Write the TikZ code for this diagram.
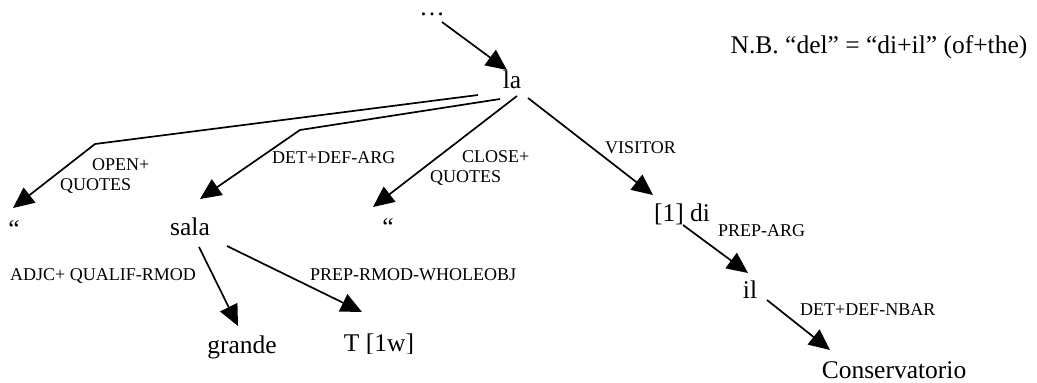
\documentclass[tikz,border=0pt]{standalone}
\usepackage{fontspec}
\setmainfont{Liberation Serif}
\usetikzlibrary{arrows.meta}
\begin{document}
\begin{tikzpicture}[x=1pt,y=-1pt,
  word/.style={anchor=base,inner sep=0pt,font=\fontsize{25.5}{30}\selectfont},
  lbl/.style={anchor=base west,inner sep=0pt,font=\fontsize{18}{20}\selectfont},
  arr/.style={line width=1.7pt,-{Triangle[length=21pt,width=19pt]}},
  ln/.style={line width=1.7pt}]
\useasboundingbox (0,0) rectangle (1037,383);
% words
\node[word,text height=4pt] (dots) at (432,15.5) {…};
\node[word] (la) at (512,88) {la};
\node[word] (q1) at (14,237) {“};
\node[word] (sala) at (190,235) {sala};
\node[word] (q2) at (388,235) {“};
\node[word] (di) at (682,221) {[1] di};
\node[word] (il) at (750,298) {il};
\node[word] (grande) at (242,353) {grande};
\begin{scope}
\clip (330,320) rectangle (430,353);
\node[word] (T) at (379,351) {T [1w]};
\end{scope}
\node[word] (cons) at (894,378) {Conservatorio};
\node[word] (nb) at (879,53) {N.B. “del” = “di+il” (of+the)};
% labels
\node[lbl] (lopen1) at (92,170) {OPEN+};
\node[lbl] (lopen2) at (60,190) {QUOTES};
\node[lbl] (ldet) at (272,163) {DET+DEF-ARG};
\node[lbl] (lclose1) at (462,162) {CLOSE+};
\node[lbl] (lclose2) at (430,182) {QUOTES};
\node[lbl] (lvis) at (605,153) {VISITOR};
\node[lbl] (ladj) at (10,280) {ADJC+ QUALIF-RMOD};
\node[lbl] (lprep) at (310,280) {PREP-RMOD-WHOLEOBJ};
\node[lbl] (lparg) at (718,236) {PREP-ARG};
\node[lbl] (lnbar) at (800,315) {DET+DEF-NBAR};
% bends
\coordinate (b1) at (95,144);
\coordinate (b2) at (300,130);
% connectors
\draw[arr] ([shift={(10,6.5)}]dots.base) -- ([shift={(-5,-18)}]la.base);
\draw[arr] ([shift={(-34,7)}]la.base) -- (b1) -- ([shift={(-1,-29)}]q1.base);
\draw[arr] ([shift={(-12,11)}]la.base) -- (b2) -- ([shift={(10,-36)}]sala.base);
\draw[arr] ([shift={(5,8)}]la.base) -- ([shift={(-15,-28)}]q2.base);
\draw[arr] ([shift={(16,10)}]la.base) -- ([shift={(-29,-26)}]di.base);
\draw[arr] ([shift={(9,12)}]sala.base) -- ([shift={(-4,-27)}]grande.base);
\draw[arr] ([shift={(37,11)}]sala.base) -- ([shift={(-17,-39)}]T.base);
\draw[arr] ([shift={(1,4)}]di.base) -- ([shift={(-2,-25)}]il.base);
\draw[arr] ([shift={(17,2)}]il.base) -- ([shift={(-64,-28)}]cons.base);
\end{tikzpicture}
\end{document}
